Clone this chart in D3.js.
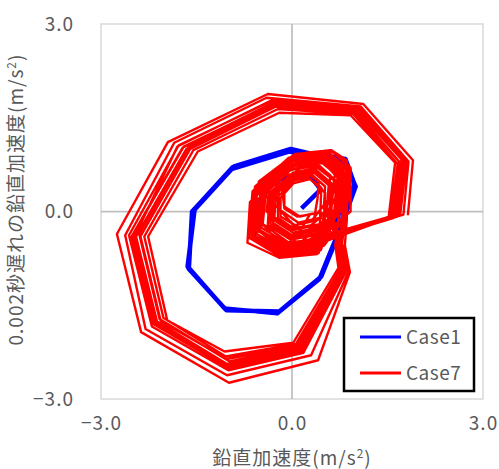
<!DOCTYPE html>
<html>
<head>
<meta charset="utf-8">
<script src="https://cdn.jsdelivr.net/npm/d3@7"></script>
<style>
  body { margin: 0; background: #fff; }
  text { font-family: "Noto Sans CJK JP", "Noto Sans", sans-serif; fill: #595959; }
</style>
</head>
<body>
<div id="chart"></div>
<script>
// axis ticks
const tickValues = [-3, 0, 3];
const tickLabels = ["−3.0", "0.0", "3.0"];
const seriesNames = ["Case1", "Case7"];

// Case1 (blue): short start-up spiral, then the steady loop a few times
const case1 = [
  [0.15, 0.05], [0.45, 0.35], [0.25, 0.62], [-0.25, 0.50], [-0.62, 0.05], [-0.60, -0.40],
  [-0.20, -0.62], [0.35, -0.58], [0.72, -0.10], [0.85, 0.45], [0.55, 0.85],
  [-0.03, 0.98], [-0.93, 0.71], [-1.55, 0.02], [-1.63, -0.90], [-1.05, -1.56], [-0.22, -1.62],
  [0.44, -1.06], [0.68, -0.46], [0.99, 0.42], [0.83, 0.82],
  [-0.05, 0.96], [-0.95, 0.68], [-1.57, 0.00], [-1.62, -0.92], [-1.03, -1.58], [-0.20, -1.60],
  [0.46, -1.04], [0.70, -0.44], [1.00, 0.40], [0.82, 0.80],
  [-0.02, 1.00], [-0.91, 0.72], [-1.53, 0.03], [-1.64, -0.88], [-1.06, -1.55], [-0.23, -1.63],
  [0.43, -1.08], [0.67, -0.48], [0.98, 0.44], [0.84, 0.84], [-0.03, 0.98]
];

// Case7 (red): big loops
const case7Outer = [
  [[1.82, -0.06], [1.90, 0.82], [1.12, 1.72], [-0.38, 1.88], [-1.95, 1.11], [-2.75, -0.36], [-2.37, -1.93], [-0.99, -2.74], [0.41, -2.38], [0.91, -0.97], [0.83, -0.54]],
  [[1.65, -0.08], [1.75, 0.80], [1.02, 1.62], [-0.30, 1.74], [-1.72, 1.02], [-2.52, -0.40], [-2.18, -1.80], [-1.00, -2.50], [0.16, -2.24], [0.82, -0.96], [0.76, -0.55]],
  [[1.60, -0.10], [1.70, 0.78], [1.00, 1.60], [-0.28, 1.70], [-1.66, 1.00], [-2.45, -0.40], [-2.12, -1.76], [-1.02, -2.44], [0.12, -2.18], [0.80, -0.95], [0.74, -0.54]],
  [[1.68, -0.07], [1.77, 0.82], [1.04, 1.64], [-0.26, 1.72], [-1.62, 1.04], [-2.40, -0.36], [-2.08, -1.72], [-0.98, -2.40], [0.10, -2.16], [0.78, -0.92], [0.72, -0.52]],
  [[1.75, -0.05], [1.83, 0.80], [1.08, 1.68], [-0.40, 1.82], [-1.85, 1.10], [-2.62, -0.38], [-2.30, -1.88], [-1.02, -2.62], [0.30, -2.30], [0.88, -0.98], [0.80, -0.55]],
  [[1.55, -0.10], [1.66, 0.76], [0.96, 1.56], [-0.22, 1.64], [-1.55, 0.98], [-2.32, -0.40], [-2.02, -1.70], [-1.04, -2.32], [0.06, -2.12], [0.76, -0.92], [0.70, -0.53]],
  [[1.62, -0.06], [1.72, 0.84], [1.00, 1.66], [-0.34, 1.76], [-1.78, 1.06], [-2.56, -0.38], [-2.20, -1.84], [-1.00, -2.54], [0.18, -2.26], [0.84, -0.98], [0.78, -0.56]],
  [[1.52, -0.08], [1.62, 0.78], [0.92, 1.54], [-0.20, 1.58], [-1.48, 0.96], [-2.26, -0.40], [-1.96, -1.74], [-1.06, -2.24], [0.02, -2.10], [0.73, -0.90], [0.68, -0.54]],
  [[1.70, -0.04], [1.80, 0.80], [1.06, 1.66], [-0.32, 1.78], [-1.80, 1.04], [-2.48, -0.42], [-2.14, -1.82], [-0.98, -2.48], [0.14, -2.20], [0.80, -0.94], [0.75, -0.55]],
  [[1.58, -0.09], [1.68, 0.80], [0.98, 1.58], [-0.25, 1.68], [-1.60, 1.00], [-2.38, -0.40], [-2.06, -1.76], [-1.02, -2.36], [0.08, -2.14], [0.77, -0.93], [0.71, -0.53]],
  [[1.66, -0.06], [1.74, 0.82], [1.03, 1.63], [-0.29, 1.73], [-1.70, 1.04], [-2.50, -0.38], [-2.16, -1.78], [-0.99, -2.46], [0.14, -2.22], [0.81, -0.95], [0.76, -0.54]]
];

// Case7 (red): small loops around the origin
const case7Inner = [
  [[0.86, -0.15], [0.88, 0.62], [0.58, 0.95], [-0.05, 0.86], [-0.62, 0.32], [-0.68, -0.42], [-0.15, -0.70], [0.45, -0.62]],
  [[0.70, 0.00], [0.74, 0.55], [0.45, 0.80], [0.00, 0.72], [-0.45, 0.32], [-0.50, -0.30], [-0.08, -0.55], [0.40, -0.48]],
  [[0.90, 0.20], [0.88, 0.75], [0.60, 0.98], [0.10, 0.92], [-0.40, 0.55], [-0.55, -0.10], [-0.20, -0.50], [0.50, -0.45]],
  [[0.80, -0.10], [0.82, 0.58], [0.52, 0.88], [-0.02, 0.80], [-0.55, 0.30], [-0.60, -0.38], [-0.12, -0.64], [0.42, -0.58]],
  [[0.45, 0.10], [0.46, 0.38], [0.28, 0.52], [0.02, 0.45], [-0.18, 0.22], [-0.18, -0.08], [0.05, -0.22], [0.30, -0.16]],
  [[0.65, 0.30], [0.68, 0.72], [0.42, 0.90], [0.00, 0.80], [-0.35, 0.45], [-0.40, 0.00], [0.00, -0.30], [0.45, -0.20]],
  [[0.62, 0.05], [0.66, 0.50], [0.40, 0.70], [0.02, 0.62], [-0.35, 0.30], [-0.38, -0.22], [-0.02, -0.45], [0.36, -0.38]],
  [[0.70, 0.25], [0.72, 0.68], [0.48, 0.88], [0.12, 0.80], [-0.20, 0.50], [-0.22, 0.05], [0.10, -0.18], [0.45, -0.10]],
  [[0.78, -0.25], [0.80, 0.45], [0.50, 0.78], [-0.10, 0.70], [-0.66, 0.15], [-0.70, -0.50], [-0.20, -0.74], [0.40, -0.68]],
  [[0.84, 0.05], [0.86, 0.70], [0.55, 0.96], [0.02, 0.90], [-0.58, 0.40], [-0.66, -0.35], [-0.18, -0.72], [0.42, -0.66]],
  [[0.55, 0.10], [0.58, 0.46], [0.36, 0.62], [0.05, 0.55], [-0.25, 0.28], [-0.28, -0.14], [0.02, -0.34], [0.32, -0.28]],
  [[0.40, 0.20], [0.42, 0.48], [0.25, 0.60], [0.00, 0.52], [-0.15, 0.32], [-0.12, 0.05], [0.08, -0.08], [0.28, -0.05]],
  [[0.50, -0.20], [0.52, 0.30], [0.25, 0.55], [-0.15, 0.45], [-0.55, 0.10], [-0.62, -0.45], [-0.25, -0.68], [0.20, -0.60]],
  [[0.78, 0.10], [0.80, 0.66], [0.52, 0.92], [0.05, 0.85], [-0.48, 0.42], [-0.56, -0.28], [-0.10, -0.60], [0.44, -0.52]],
  [[0.88, 0.35], [0.86, 0.82], [0.62, 0.98], [0.22, 0.94], [-0.20, 0.65], [-0.30, 0.15], [0.05, -0.25], [0.55, -0.25]],
  [[0.58, 0.22], [0.60, 0.58], [0.38, 0.76], [0.10, 0.68], [-0.12, 0.42], [-0.12, 0.08], [0.12, -0.08], [0.40, -0.02]],
  [[0.66, -0.05], [0.70, 0.48], [0.42, 0.74], [-0.05, 0.66], [-0.50, 0.22], [-0.55, -0.36], [-0.12, -0.62], [0.38, -0.52]],
  [[0.60, -0.15], [0.64, 0.40], [0.36, 0.66], [-0.10, 0.58], [-0.55, 0.18], [-0.60, -0.40], [-0.22, -0.65], [0.30, -0.58]],
  [[0.84, -0.08], [0.87, 0.64], [0.56, 0.94], [-0.04, 0.84], [-0.60, 0.34], [-0.64, -0.40], [-0.16, -0.68], [0.44, -0.60]],
  [[0.60, 0.00], [0.63, 0.44], [0.38, 0.66], [0.00, 0.58], [-0.32, 0.26], [-0.34, -0.20], [0.00, -0.42], [0.34, -0.36]],
  [[0.74, 0.05], [0.77, 0.60], [0.48, 0.85], [0.02, 0.76], [-0.44, 0.36], [-0.48, -0.26], [-0.06, -0.52], [0.40, -0.46]],
  [[0.76, 0.15], [0.78, 0.62], [0.50, 0.86], [0.06, 0.78], [-0.40, 0.40], [-0.46, -0.20], [-0.05, -0.50], [0.40, -0.44]],
  [[0.92, 0.00], [0.92, 0.70], [0.62, 0.97], [0.05, 0.92], [-0.52, 0.48], [-0.62, -0.22], [-0.15, -0.62], [0.50, -0.55]],
  [[0.82, -0.12], [0.85, 0.60], [0.54, 0.90], [-0.03, 0.82], [-0.58, 0.30], [-0.64, -0.40], [-0.14, -0.66], [0.42, -0.60]],
  [[0.50, 0.05], [0.52, 0.40], [0.32, 0.58], [0.04, 0.50], [-0.22, 0.24], [-0.22, -0.10], [0.04, -0.28], [0.30, -0.22]],
  [[0.55, 0.00], [0.58, 0.42], [0.35, 0.62], [0.00, 0.55], [-0.30, 0.24], [-0.30, -0.18], [0.00, -0.38], [0.32, -0.32]],
  [[0.72, -0.02], [0.76, 0.56], [0.46, 0.82], [0.00, 0.74], [-0.48, 0.30], [-0.52, -0.32], [-0.10, -0.58], [0.40, -0.50]]
];
// where the track leaves the small loops for the next big one
const case7Exit = [[0.15, -0.55], [0.05, -0.58], [0.25, -0.52], [-0.05, -0.60], [0.20, -0.56], [0.10, -0.50], [0.30, -0.55], [0.00, -0.57], [0.18, -0.60], [0.08, -0.54], [0.22, -0.58]];

// stitch the red track: big loop, small loops, then out again
const case7 = [];
const nIn = case7Inner.length;
case7Outer.forEach((loop, i) => {
  case7.push(...loop);
  for (let k = 0; k < 3; k++) case7.push(...case7Inner[(3 * i + k) % nIn]);
  case7.push(case7Exit[i]);
});

const width = 499, height = 469;
const margin = { left: 101, right: 16, top: 24, bottom: 70 };

const svg = d3.select('#chart')
  .append('svg')
  .attr('width', width)
  .attr('height', height);

const x = d3.scaleLinear().domain([-3, 3]).range([margin.left, width - margin.right]);
const y = d3.scaleLinear().domain([-3, 3]).range([height - margin.bottom, margin.top]);

// plot frame
svg.append('rect')
  .attr('x', x(-3)).attr('y', y(3))
  .attr('width', x(3) - x(-3)).attr('height', y(-3) - y(3))
  .attr('fill', 'none').attr('stroke', '#d9d9d9').attr('stroke-width', 1.5);

// zero lines
svg.append('line')
  .attr('x1', x(0)).attr('x2', x(0)).attr('y1', y(3)).attr('y2', y(-3))
  .attr('stroke', '#bfbfbf').attr('stroke-width', 1.75);
svg.append('line')
  .attr('x1', x(-3)).attr('x2', x(3)).attr('y1', y(0)).attr('y2', y(0))
  .attr('stroke', '#bfbfbf').attr('stroke-width', 1.75);

// x axis
const xAxis = svg.append('g')
  .attr('transform', `translate(0,${y(-3)})`)
  .call(d3.axisBottom(x).tickValues(tickValues).tickFormat((d, i) => tickLabels[i]).tickSize(0).tickPadding(18));
xAxis.select('.domain').remove();
xAxis.selectAll('text').style('font-size', '19px').style('letter-spacing', '1px').attr('fill', '#595959');

// y axis
const yAxis = svg.append('g')
  .attr('transform', `translate(${x(-3)},0)`)
  .call(d3.axisLeft(y).tickValues(tickValues).tickFormat((d, i) => tickLabels[i]).tickSize(0).tickPadding(27));
yAxis.select('.domain').remove();
yAxis.selectAll('text').style('font-size', '19px').style('letter-spacing', '1px').attr('fill', '#595959');

const line = d3.line().x(d => x(d[0])).y(d => y(d[1]));

svg.append('clipPath').attr('id', 'plot')
  .append('rect')
  .attr('x', x(-3)).attr('y', y(3))
  .attr('width', x(3) - x(-3)).attr('height', y(-3) - y(3));

svg.append('path')
  .datum(case1)
  .attr('d', line)
  .attr('fill', 'none')
  .attr('stroke', '#0000ff')
  .attr('stroke-width', 4.5)
  .attr('stroke-linejoin', 'round')
  .attr('clip-path', 'url(#plot)');

svg.append('path')
  .datum(case7)
  .attr('d', line)
  .attr('fill', 'none')
  .attr('stroke', '#ff0000')
  .attr('stroke-width', 2.4)
  .attr('stroke-linejoin', 'round')
  .attr('clip-path', 'url(#plot)');

// axis titles
svg.append('text')
  .attr('x', x(0)).attr('y', 465)
  .attr('text-anchor', 'middle')
  .style('font-size', '19px')
  .style('letter-spacing', '1px')
  .html('鉛直加速度(m/s<tspan dy="-7" font-size="12px">2</tspan><tspan dy="7">)</tspan>');

svg.append('text')
  .attr('transform', `translate(23,${y(0) - 12}) rotate(-90)`)
  .attr('text-anchor', 'middle')
  .style('font-size', '19px')
  .style('letter-spacing', '1px')
  .html('0.002秒遅れの鉛直加速度(m/s<tspan dy="-7" font-size="12px">2</tspan><tspan dy="7">)</tspan>');

// legend
const legend = svg.append('g').attr('transform', 'translate(344,318)');
legend.append('rect')
  .attr('width', 130).attr('height', 73)
  .attr('fill', '#fff').attr('stroke', '#000').attr('stroke-width', 2.5);
const legendColors = ['#0000ff', '#ff0000'];
seriesNames.forEach((name, i) => {
  const ly = 19 + i * 36;
  legend.append('line')
    .attr('x1', 16).attr('x2', 57).attr('y1', ly).attr('y2', ly)
    .attr('stroke', legendColors[i]).attr('stroke-width', 3);
  legend.append('text')
    .attr('x', 62).attr('y', ly + 7)
    .style('font-size', '19px')
    .style('letter-spacing', '0.5px')
    .text(name);
});
</script>
</body>
</html>
